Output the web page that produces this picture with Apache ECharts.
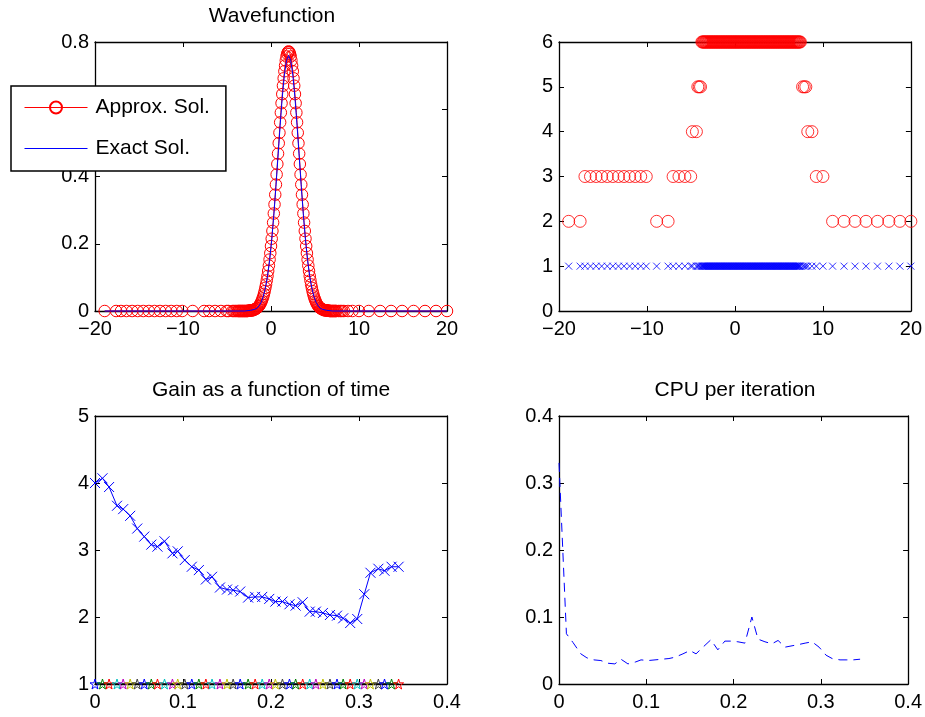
<!DOCTYPE html>
<html>
<head>
<meta charset="utf-8">
<script src="https://cdn.jsdelivr.net/npm/echarts@6/dist/echarts.min.js"></script>
<style>
  html, body { margin: 0; padding: 0; background: #fff; }
  #chart { width: 925px; height: 717px; }
</style>
</head>
<body>
<div id="chart"></div>
<script>
// ---- adaptive grid: coarse points left of the bump ----
const sparseLeftX = [-18.9, -17.6, -17.05, -16.42, -15.78, -15.15, -14.51, -13.88, -13.24, -12.61,
  -11.97, -11.34, -10.71, -10.08, -8.9, -7.6, -7.03, -6.36, -5.69, -5.03, -4.84, -4.38, -4.22, -4.06, -3.91];
const sparseLeftLevel = [2, 2, 3, 3, 3, 3, 3, 3, 3, 3, 3, 3, 3, 3, 2, 2, 3, 3, 3, 3, 4, 4, 5, 5, 5];
const sparseLeftPsi = [0, 0, 0, 0, 0, 0, 0, 0, 0, 0, 0, 0, 0, 0, 0, 0, 0, 0, 0, 0, 0, 0, 0, 0, 0];

// ---- finest level (6) around the bump ----
const fineLevel = 6;
const fineX = [
  -3.76, -3.68, -3.60, -3.52, -3.44, -3.36, -3.28, -3.20, -3.12, -3.04,
  -2.96, -2.88, -2.80, -2.72, -2.64, -2.56, -2.48, -2.40, -2.32, -2.24,
  -2.16, -2.08, -2.00, -1.92, -1.84, -1.76, -1.68, -1.60, -1.52, -1.44,
  -1.36, -1.28, -1.20, -1.12, -1.04, -0.96, -0.88, -0.80, -0.72, -0.64,
  -0.56, -0.48, -0.40, -0.32, -0.24, -0.16, -0.08, 0.00, 0.08, 0.16,
  0.24, 0.32, 0.40, 0.48, 0.56, 0.64, 0.72, 0.80, 0.88, 0.96,
  1.04, 1.12, 1.20, 1.28, 1.36, 1.44, 1.52, 1.60, 1.68, 1.76,
  1.84, 1.92, 2.00, 2.08, 2.16, 2.24, 2.32, 2.40, 2.48, 2.56,
  2.64, 2.72, 2.80, 2.88, 2.96, 3.04, 3.12, 3.20, 3.28, 3.36,
  3.44, 3.52, 3.60, 3.68, 3.76, 3.84, 3.92, 4.00, 4.08, 4.16,
  4.24, 4.32, 4.40, 4.48, 4.56, 4.64, 4.72, 4.80, 4.88, 4.96,
  5.04, 5.12, 5.20, 5.28, 5.36, 5.44, 5.52, 5.60, 5.68, 5.76,
  5.84, 5.92, 6.00, 6.08, 6.16, 6.24, 6.32, 6.40, 6.48, 6.56,
  6.64, 6.72, 6.80, 6.88, 6.96, 7.04, 7.12, 7.20, 7.28, 7.36,
  7.44
];
const finePsi = [
  0, 0, 0, 0, 0, 0, 0, 0, 0, 0,
  0, 0, 0, 0, 0, 0.001, 0.001, 0.001, 0.002, 0.002,
  0.002, 0.002, 0.003, 0.004, 0.005, 0.006, 0.007, 0.009, 0.010, 0.013,
  0.015, 0.018, 0.022, 0.026, 0.031, 0.037, 0.043, 0.051, 0.059, 0.069,
  0.079, 0.091, 0.104, 0.119, 0.135, 0.153, 0.172, 0.193, 0.215, 0.238,
  0.263, 0.290, 0.317, 0.346, 0.376, 0.406, 0.437, 0.468, 0.499, 0.530,
  0.561, 0.590, 0.618, 0.645, 0.670, 0.692, 0.713, 0.730, 0.745, 0.757,
  0.765, 0.770, 0.772, 0.770, 0.765, 0.757, 0.745, 0.730, 0.713, 0.692,
  0.670, 0.645, 0.618, 0.590, 0.561, 0.530, 0.499, 0.468, 0.437, 0.406,
  0.376, 0.346, 0.317, 0.290, 0.263, 0.238, 0.215, 0.193, 0.172, 0.153,
  0.135, 0.119, 0.104, 0.091, 0.079, 0.069, 0.059, 0.051, 0.043, 0.037,
  0.031, 0.026, 0.022, 0.018, 0.015, 0.013, 0.010, 0.009, 0.007, 0.006,
  0.005, 0.004, 0.003, 0.002, 0.002, 0.002, 0.002, 0.001, 0.001, 0.001,
  0, 0, 0, 0, 0, 0, 0, 0, 0, 0,
  0
];

// ---- coarse points right of the bump ----
const sparseRightX = [7.69, 7.88, 8.06, 8.28, 8.75, 9.25, 10.0, 11.1, 12.4, 13.65, 14.9, 16.2, 17.5, 18.75, 20.0];
const sparseRightLevel = [5, 5, 5, 4, 4, 3, 3, 2, 2, 2, 2, 2, 2, 2, 2];
const sparseRightPsi = [0, 0, 0, 0, 0, 0, 0, 0, 0, 0, 0, 0, 0, 0, 0];

// every grid point is also marked on the base level
const baseLevel = 1;

// ---- reference solution ----
const exactX = [-18.9, -3.0, -2.32, -1.84, -1.6, -1.36, -1.12, -0.88, -0.64, -0.4, -0.16, 0.08, 0.32, 0.56,
  0.8, 1.04, 1.28, 1.52, 1.76, 2.0, 2.24, 2.48, 2.72, 2.96, 3.2, 3.44, 3.68, 3.92, 4.16, 4.4, 4.64,
  4.88, 5.12, 5.36, 5.6, 5.84, 6.32, 7.0, 20.0];
const exactPsi = [0, 0, 0.002, 0.005, 0.008, 0.015, 0.026, 0.043, 0.068, 0.103, 0.150, 0.211, 0.285, 0.370,
  0.461, 0.552, 0.635, 0.702, 0.745, 0.760, 0.745, 0.702, 0.635, 0.552, 0.461, 0.370, 0.285, 0.211, 0.150,
  0.103, 0.068, 0.043, 0.026, 0.015, 0.008, 0.005, 0.002, 0, 0];

// ---- time history ----
const timeGrid = [0, 0.0085, 0.016, 0.025, 0.032, 0.040, 0.048, 0.056, 0.064, 0.071,
  0.079, 0.088, 0.094, 0.102, 0.110, 0.118, 0.126, 0.133, 0.142, 0.150,
  0.157, 0.165, 0.174, 0.182, 0.190, 0.198, 0.205, 0.213, 0.221, 0.228,
  0.236, 0.244, 0.251, 0.259, 0.267, 0.275, 0.282, 0.290, 0.298, 0.306,
  0.313, 0.322, 0.329, 0.337, 0.345];
const gain = [4.00, 4.07, 3.94, 3.66, 3.61, 3.51, 3.32, 3.20, 3.08, 3.05,
  3.13, 2.95, 2.98, 2.85, 2.75, 2.70, 2.56, 2.60, 2.44, 2.41,
  2.40, 2.38, 2.29, 2.30, 2.30, 2.27, 2.23, 2.23, 2.19, 2.17,
  2.22, 2.08, 2.08, 2.06, 2.03, 2.02, 1.98, 1.91, 1.97, 2.34,
  2.66, 2.72, 2.69, 2.75, 2.75];
const stepLevel = [1, 1, 1, 1, 1, 1, 1, 1, 1, 1, 1, 1, 1, 1, 1, 1, 1, 1, 1, 1, 1, 1, 1,
  1, 1, 1, 1, 1, 1, 1, 1, 1, 1, 1, 1, 1, 1, 1, 1, 1, 1, 1, 1, 1, 1];
const stepColors = ['#0000ff', '#008000', '#ff0000', '#00bfbf', '#bf00bf', '#bfbf00', '#404040'];
const cpu = [0.330, 0.075, 0.062, 0.045, 0.039, 0.036, 0.035, 0.031, 0.030, 0.037,
  0.030, 0.033, 0.036, 0.035, 0.036, 0.037, 0.038, 0.040, 0.045, 0.050,
  0.045, 0.055, 0.066, 0.051, 0.064, 0.064, 0.063, 0.061, 0.100, 0.067,
  0.063, 0.060, 0.065, 0.055, 0.057, 0.059, 0.061, 0.063, 0.055, 0.043,
  0.038, 0.036, 0.036, 0.036, 0.037];

// ---- axis ranges and tick steps per panel ----
const xRanges = [[-20, 20, 10], [-20, 20, 10], [0, 0.4, 0.1], [0, 0.4, 0.1]];
const yRanges = [[0, 0.8, 0.2], [0, 6, 1], [1, 5, 1], [0, 0.4, 0.1]];

const FONT = "'Liberation Sans', Arial, Helvetica, sans-serif";
const panels = [
  { left: 95, top: 42, width: 352, height: 269 },
  { left: 559, top: 42, width: 352, height: 269 },
  { left: 95, top: 416, width: 352, height: 268 },
  { left: 559, top: 416, width: 352, height: 268 }
];

function tickText(v) {
  return String(+v.toFixed(2)).replace('-', '\u2212');
}

const xAxes = [], yAxes = [];
panels.forEach((p, i) => {
  const [x0, x1, xs] = xRanges[i];
  const [y0, y1, ys] = yRanges[i];
  ['bottom', 'top'].forEach(pos => xAxes.push({
    type: 'value', gridIndex: i, position: pos, min: x0, max: x1, interval: xs,
    axisLine: { show: true, onZero: false, lineStyle: { color: '#000', width: 1.3 } },
    axisTick: { show: true, inside: true, length: 5, lineStyle: { color: '#000', width: 1 } },
    axisLabel: { show: pos === 'bottom', color: '#000', fontSize: 20, fontFamily: FONT, margin: 8, formatter: tickText },
    splitLine: { show: false }
  }));
  ['left', 'right'].forEach(pos => yAxes.push({
    type: 'value', gridIndex: i, position: pos, min: y0, max: y1, interval: ys,
    axisLine: { show: true, onZero: false, lineStyle: { color: '#000', width: 1.3 } },
    axisTick: { show: true, inside: true, length: 5, lineStyle: { color: '#000', width: 1 } },
    axisLabel: { show: pos === 'left', color: '#000', fontSize: 20, fontFamily: FONT, margin: 6, formatter: tickText },
    splitLine: { show: false }
  }));
});

const gridX = sparseLeftX.concat(fineX, sparseRightX);
const gridPsi = sparseLeftPsi.concat(finePsi, sparseRightPsi);
const gridLevel = sparseLeftLevel.concat(fineX.map(() => fineLevel), sparseRightLevel);

const crossPath = 'path://M0,0L10,10M10,0L0,10';
const starPath = 'path://M50,0L61,35L98,35L68,57L79,91L50,70L21,91L32,57L2,35L39,35Z';
const hollow = c => ({ color: 'rgba(0,0,0,0)', borderColor: c, borderWidth: 1 });
const titleStyle = { fontSize: 21, fontWeight: 'normal', color: '#000', fontFamily: FONT };

const chart = echarts.init(document.getElementById('chart'), null, { renderer: 'canvas' });
chart.setOption({
  animation: false,
  backgroundColor: '#fff',
  textStyle: { fontFamily: FONT },
  title: [
    { text: 'Wavefunction', left: 272, top: 6, padding: 0, textAlign: 'center', textStyle: titleStyle },
    { text: 'Gain as a function of time', left: 271, top: 380, padding: 0, textAlign: 'center', textStyle: titleStyle },
    { text: 'CPU per iteration', left: 735, top: 380, padding: 0, textAlign: 'center', textStyle: titleStyle }
  ],
  legend: {
    data: [
      { name: 'Approx. Sol.' },
      { name: 'Exact Sol.', itemStyle: { opacity: 0 } }
    ],
    orient: 'vertical', left: 11, top: 86,
    padding: [11, 16, 12, 13],
    itemWidth: 63, itemHeight: 15, itemGap: 20,
    backgroundColor: '#fff', borderColor: '#000', borderWidth: 1.5, borderRadius: 0,
    selectedMode: false,
    lineStyle: { width: 1 },
    textStyle: { fontSize: 21, color: '#000', fontFamily: FONT, padding: [0, 0, 0, 3] }
  },
  grid: panels.map(p => Object.assign({ containLabel: false, show: false }, p)),
  xAxis: xAxes,
  yAxis: yAxes,
  series: [
    {
      name: 'Approx. Sol.', type: 'line', xAxisIndex: 0, yAxisIndex: 0,
      data: gridX.map((x, i) => [x, gridPsi[i]]),
      symbol: 'circle', symbolSize: 11.5, showSymbol: true, clip: false, silent: true,
      color: '#ff0000',
      itemStyle: hollow('#ff0000'),
      lineStyle: { color: '#ff0000', width: 1 }, z: 2
    },
    {
      name: 'Exact Sol.', type: 'line', xAxisIndex: 0, yAxisIndex: 0,
      data: exactX.map((x, i) => [x, exactPsi[i]]),
      symbol: 'none', showSymbol: false, clip: false, silent: true,
      color: '#0000ff',
      lineStyle: { color: '#0000ff', width: 1 }, z: 3
    },
    {
      name: 'level', type: 'scatter', xAxisIndex: 2, yAxisIndex: 2,
      data: gridX.map((x, i) => [x, gridLevel[i]]),
      symbol: 'circle', symbolSize: 12, clip: false, silent: true,
      itemStyle: hollow('#ff0000')
    },
    {
      name: 'points', type: 'scatter', xAxisIndex: 2, yAxisIndex: 2,
      data: gridX.map(x => [x, baseLevel]),
      symbol: crossPath, symbolSize: 7, clip: false, silent: true,
      itemStyle: hollow('#0000ff')
    },
    {
      name: 'gain', type: 'line', xAxisIndex: 4, yAxisIndex: 4,
      data: timeGrid.map((t, i) => [t, gain[i]]),
      symbol: crossPath, symbolSize: 10, showSymbol: true, clip: false, silent: true,
      color: '#0000ff',
      itemStyle: hollow('#0000ff'),
      lineStyle: { color: '#0000ff', width: 1 }
    },
    {
      name: 'steps', type: 'line', xAxisIndex: 4, yAxisIndex: 4,
      data: timeGrid.map((t, i) => ({ value: [t, stepLevel[i]], itemStyle: hollow(stepColors[i % stepColors.length]) })),
      symbol: starPath, symbolSize: 10, showSymbol: true, clip: false, silent: true,
      lineStyle: { color: '#000', width: 1.5 }, z: 4
    },
    {
      name: 'cpu', type: 'line', xAxisIndex: 6, yAxisIndex: 6,
      data: timeGrid.map((t, i) => [t, cpu[i]]),
      symbol: 'none', showSymbol: false, clip: false, silent: true,
      lineStyle: { color: '#0000ff', width: 1, type: [9, 6] }
    }
  ]
});
</script>
</body>
</html>
